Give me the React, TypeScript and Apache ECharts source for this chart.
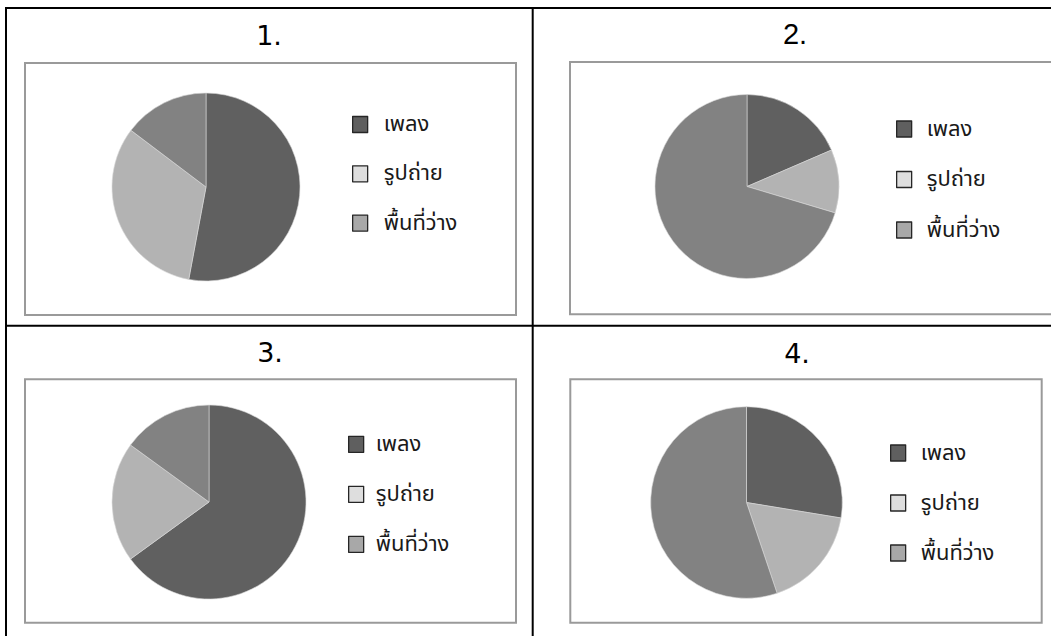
import React, { useEffect, useRef } from "react";
import * as echarts from "echarts";

// Storage usage breakdown shown in four pie charts
const categories = ["เพลง", "รูปถ่าย", "พื้นที่ว่าง"];
const chartTitles = ["1.", "2.", "3.", "4."];
const values1 = [18, 11, 5];
const values2 = [5, 3, 19];
const values3 = [13, 4, 3];
const values4 = [8, 5, 16];
const allValues = [values1, values2, values3, values4];

const sliceColors = ["#606060", "#b3b3b3", "#828282"];
const legendColors = ["#5f5f5f", "#dedede", "#a8a8a8"];

const thaiFont = "Tahoma, 'Noto Sans Thai', 'Noto Sans', 'DejaVu Sans', sans-serif";

// Height of one legend row as laid out by the legend (text box included)
const LEGEND_ROW = 22;

// Layout of each table cell: frame box, pie, legend and heading
const cells = [
  {
    box: [25, 63, 516, 315],
    center: [206, 187],
    radius: 94,
    legend: { left: 352, firstY: 124.5, step: 49.3, textGap: 11 },
    title: { x: 269, y: 35, font: "'DejaVu Sans', sans-serif", size: 27 },
  },
  {
    box: [570, 62, 1062, 314.3],
    center: [747, 186.5],
    radius: 92,
    legend: { left: 896, firstY: 129, step: 50.5, textGap: 10 },
    title: { x: 795, y: 34, font: "'Liberation Sans', Arial, sans-serif", size: 29 },
  },
  {
    box: [25, 379.3, 516, 622.7],
    center: [209, 502],
    radius: 97,
    legend: { left: 348, firstY: 444.3, step: 50, textGap: 7 },
    title: { x: 270, y: 352, font: "'DejaVu Sans', sans-serif", size: 27 },
  },
  {
    box: [570.3, 379.3, 1041.7, 622.7],
    center: [746.5, 502.5],
    radius: 95.8,
    legend: { left: 890, firstY: 453, step: 50, textGap: 10 },
    title: { x: 797, y: 353, font: "'DejaVu Sans', sans-serif", size: 27 },
  },
];

export default function App() {
  const ref = useRef<HTMLDivElement>(null);

  useEffect(() => {
    if (!ref.current) return;
    const chart = echarts.init(ref.current, undefined, { renderer: "svg" });

    const tableLines = [
      { x1: 5, y1: 8, x2: 1051, y2: 8 },
      { x1: 6, y1: 7, x2: 6, y2: 636 },
      { x1: 532.7, y1: 7, x2: 532.7, y2: 636 },
      { x1: 5, y1: 325.7, x2: 1051, y2: 325.7 },
    ];

    const graphic: any[] = [];
    tableLines.forEach((l) => {
      graphic.push({
        type: "line",
        shape: l,
        style: { stroke: "#000000", lineWidth: 2 },
        silent: true,
      });
    });
    cells.forEach((c, i) => {
      const [x1, y1, x2, y2] = c.box;
      graphic.push({
        type: "rect",
        shape: { x: x1, y: y1, width: x2 - x1, height: y2 - y1 },
        style: { fill: "#ffffff", stroke: "#9a9a9a", lineWidth: 2 },
        z: -1,
        silent: true,
      });
      graphic.push({
        type: "text",
        x: c.title.x,
        y: c.title.y,
        style: {
          text: chartTitles[i],
          fontFamily: c.title.font,
          fontSize: c.title.size,
          fill: "#000000",
          align: "center",
          verticalAlign: "middle",
        },
        silent: true,
      });
    });

    const legends = cells.map((c) => ({
      orient: "vertical",
      left: c.legend.left,
      top: c.legend.firstY - LEGEND_ROW / 2,
      padding: 0,
      itemGap: c.legend.step - LEGEND_ROW,
      itemWidth: 15,
      itemHeight: 16,
      icon: "rect",
      selectedMode: false,
      data: categories.map((name, k) => ({
        name,
        itemStyle: { color: legendColors[k], borderColor: "#262626", borderWidth: 1.3 },
      })),
      textStyle: {
        fontFamily: thaiFont,
        fontSize: 22,
        color: "#1a1a1a",
        padding: [0, 0, 0, c.legend.textGap],
      },
    }));

    const series = cells.map((c, i) => ({
      type: "pie",
      center: c.center,
      radius: c.radius,
      startAngle: 90,
      clockwise: true,
      label: { show: false },
      labelLine: { show: false },
      emphasis: { disabled: true },
      itemStyle: { borderColor: "#d8d8d8", borderWidth: 0.6 },
      data: categories.map((name, k) => ({
        name,
        value: allValues[i][k],
        itemStyle: { color: sliceColors[k] },
      })),
    }));

    chart.setOption({
      animation: false,
      backgroundColor: "#ffffff",
      graphic,
      legend: legends,
      series,
    });

    return () => chart.dispose();
  }, []);

  return (
    <div
      ref={ref}
      style={{ position: "absolute", left: 0, top: 0, width: 1051, height: 636 }}
    />
  );
}
